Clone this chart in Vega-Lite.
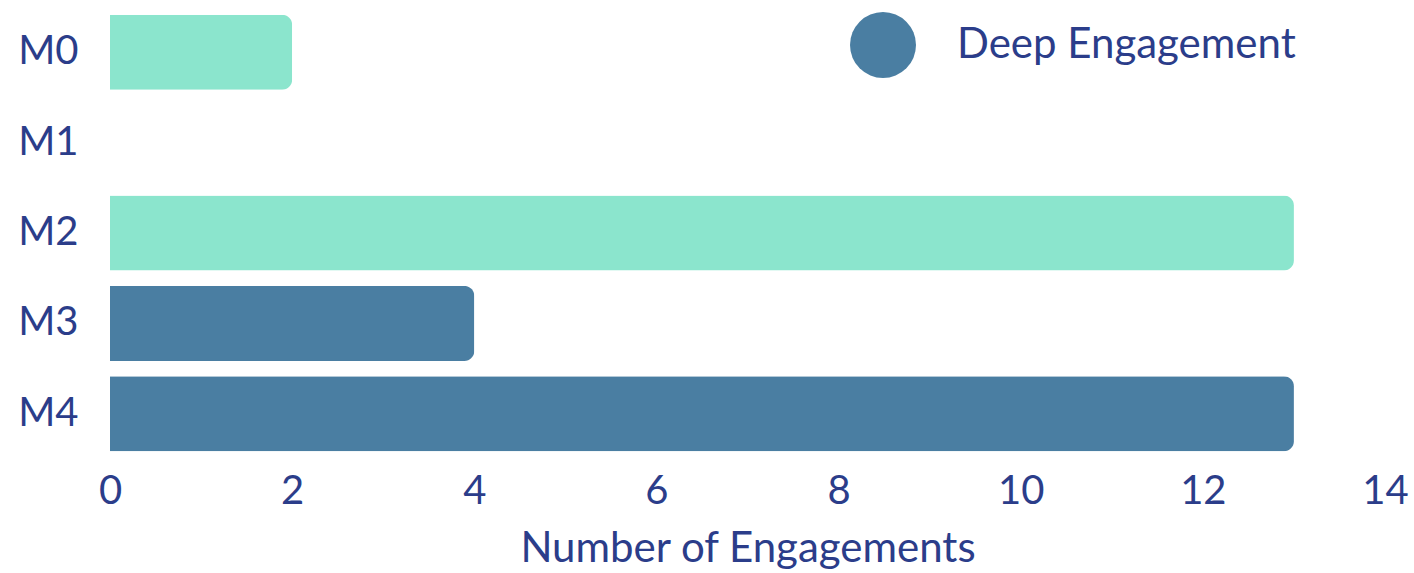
{
  "$schema": "https://vega.github.io/schema/vega-lite/v6.json",
  "width": 1275,
  "height": 452,
  "autosize": "none",
  "padding": {"left": 110, "top": 7, "right": 29, "bottom": 114},
  "background": "white",
  "config": {
    "view": {"stroke": null},
    "font": "Lato",
    "axis": {"labelColor": "#2B3D8A", "titleColor": "#2B3D8A", "labelFont": "Lato", "titleFont": "Lato", "titleFontWeight": "normal", "grid": false, "domain": false, "ticks": false},
    "legend": {"labelColor": "#2B3D8A", "labelFont": "Lato"}
  },
  "data": {
    "values": [
      {"model": "M0", "engagements": 2, "type": "Light Engagement"},
      {"model": "M1", "engagements": 0, "type": "Deep Engagement"},
      {"model": "M2", "engagements": 13, "type": "Light Engagement"},
      {"model": "M3", "engagements": 4, "type": "Deep Engagement"},
      {"model": "M4", "engagements": 13, "type": "Deep Engagement"}
    ]
  },
  "mark": {"type": "bar", "cornerRadiusEnd": 10},
  "encoding": {
    "y": {
      "field": "model", "type": "nominal", "title": null,
      "sort": ["M0", "M1", "M2", "M3", "M4"],
      "scale": {"domain": ["M0", "M1", "M2", "M3", "M4"], "paddingInner": 0.17, "paddingOuter": 0.085},
      "axis": {"labelFontSize": 40, "labelPadding": 32, "labelAlign": "right"}
    },
    "x": {
      "field": "engagements", "type": "quantitative",
      "title": "Number of Engagements",
      "scale": {"domain": [0, 14], "nice": false},
      "axis": {"values": [0, 2, 4, 6, 8, 10, 12, 14], "labelFontSize": 40, "labelPadding": 12, "titleFontSize": 42, "titlePadding": 17, "labelFlush": false, "labelOverlap": false}
    },
    "color": {
      "field": "type", "type": "nominal",
      "scale": {"domain": ["Deep Engagement", "Light Engagement"], "range": ["#4A7EA2", "#8BE5CD"]},
      "legend": {
        "values": ["Deep Engagement"], "title": null, "orient": "none",
        "legendX": 740, "legendY": 5,
        "symbolType": "circle", "symbolSize": 4356, "symbolStrokeWidth": 0, "symbolOpacity": 1,
        "labelFontSize": 42, "labelOffset": 41, "labelLimit": 0, "padding": 0
      }
    }
  }
}
